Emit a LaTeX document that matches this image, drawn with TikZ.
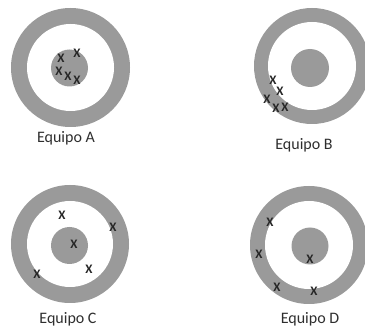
\documentclass[tikz,border=0pt]{standalone}
\usepackage{fontspec}
\setmainfont{Carlito}
\definecolor{ringgray}{HTML}{9A9A9A}
\definecolor{txtgray}{HTML}{2E2E2E}
\tikzset{
  ring/.style={fill=ringgray, draw=none},
  hole/.style={fill=white, draw=none},
  xmark/.style={font=\fontsize{13}{13}\selectfont\bfseries, text=black!85, inner sep=0pt},
  lbl/.style={font=\fontsize{16}{16}\selectfont, text=txtgray, inner sep=0pt}
}
\newcommand{\target}[8]{%
  % #1 name, #2 cx, #3 cy, #4 outer r, #5 inner white r, #6 disk cx, #7 disk cy, #8 disk r
  \fill[ring] (#2,#3) circle[radius=#4];
  \fill[hole] (#2,#3) circle[radius=#5];
  \fill[ring] (#6,#7) circle[radius=#8];
  \coordinate (#1) at (#2,#3);
}
\begin{document}
\begin{tikzpicture}[x=1pt,y=-1pt]
\useasboundingbox (0,0) rectangle (365,329);
% Target A
\target{tA}{70.5}{67.5}{59.5}{43.5}{69.5}{68}{18.5}
\node[xmark] (a1) at (61,58) {X};
\node[xmark] (a2) at (77,53) {X};
\node[xmark] (a3) at (59,71) {X};
\node[xmark] (a4) at (68,76) {X};
\node[xmark] (a5) at (77,80) {X};
\node[lbl] (la) at (66,138) {Equipo A};
% Target B
\target{tB}{312}{66}{58}{44}{310}{68}{19}
\node[xmark] (b1) at (273,80) {X};
\node[xmark] (b2) at (280,91) {X};
\node[xmark] (b3) at (267,99) {X};
\node[xmark] (b4) at (276,108) {X};
\node[xmark] (b5) at (285,107) {X};
\node[lbl] (lb) at (304,145) {Equipo B};
% Target C
\target{tC}{70}{244}{59}{43}{69.5}{245.5}{18.5}
\node[xmark] (c1) at (62,215) {X};
\node[xmark] (c2) at (113,227) {X};
\node[xmark] (c3) at (74,244) {X};
\node[xmark] (c4) at (89,269) {X};
\node[xmark] (c5) at (37,274) {X};
\node[lbl] (lc) at (68,319) {Equipo C};
% Target D
\target{tD}{309}{245}{59}{44}{310}{246}{18.5}
\node[xmark] (d1) at (270,222) {X};
\node[xmark] (d2) at (259,254) {X};
\node[xmark] (d3) at (310,259) {X};
\node[xmark] (d4) at (277,287) {X};
\node[xmark] (d5) at (314,291) {X};
\node[lbl] (ld) at (310,319) {Equipo D};
\end{tikzpicture}
\end{document}
